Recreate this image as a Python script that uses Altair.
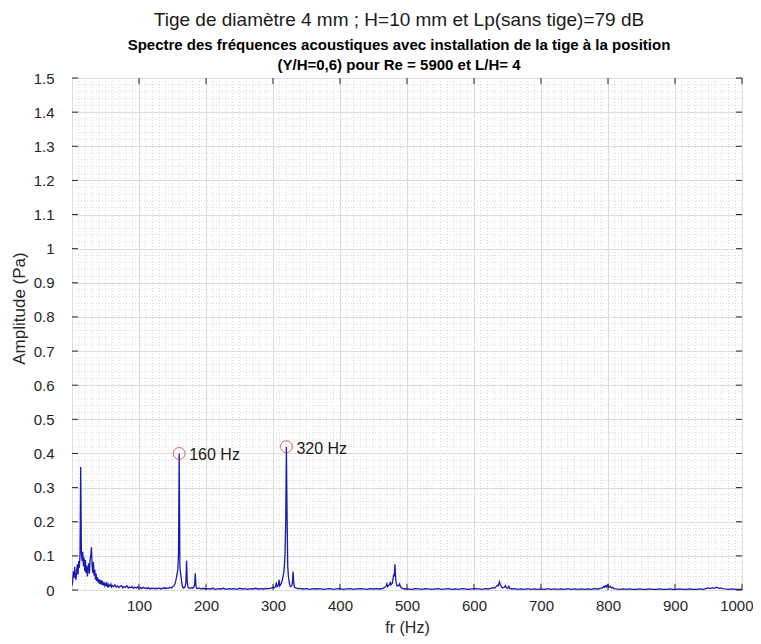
import altair as alt
import pandas as pd

# ---------------- data ----------------
freq_low = [0, 1, 2, 3, 4, 5, 6, 7, 8, 9, 10, 11, 12, 13, 14, 15, 16, 17, 18, 19,
            20, 21, 22, 23, 24, 25, 26, 27, 28, 29, 30, 31, 32, 33, 34, 35, 36, 37, 38, 39,
            40, 41, 42, 43, 44, 45, 46, 47, 48, 49, 50, 51, 52, 53, 54, 55, 56, 57, 58, 59, 60]
amp_low = [0.012, 0.025, 0.055, 0.035, 0.068, 0.040, 0.030, 0.058, 0.075, 0.045,
           0.085, 0.065, 0.105, 0.360, 0.110, 0.085, 0.112, 0.070, 0.095, 0.055,
           0.088, 0.050, 0.072, 0.040, 0.062, 0.078, 0.048, 0.090, 0.100, 0.125,
           0.072, 0.050, 0.082, 0.042, 0.060, 0.030, 0.048, 0.026, 0.038, 0.022,
           0.032, 0.018, 0.026, 0.020, 0.028, 0.015, 0.022, 0.016, 0.020, 0.012,
           0.018, 0.014, 0.020, 0.011, 0.016, 0.010, 0.014, 0.012, 0.017, 0.009, 0.013]

freq_tail = [62, 64, 66, 68, 70, 72, 74, 76, 78, 80, 82, 84, 86, 88, 90, 92, 94, 96, 98, 100,
             102, 104, 106, 108, 110, 112, 114, 116, 118, 120, 122, 124, 126, 128, 130, 132,
             134, 136, 138, 140, 142, 144, 146, 148, 150, 152]
amp_tail = [0.010, 0.015, 0.008, 0.012, 0.007, 0.011, 0.013, 0.006, 0.010, 0.008,
            0.012, 0.006, 0.009, 0.007, 0.010, 0.005, 0.008, 0.006, 0.009, 0.005,
            0.007, 0.004, 0.008, 0.005, 0.006, 0.004, 0.007, 0.003, 0.005, 0.004,
            0.006, 0.003, 0.005, 0.004, 0.006, 0.003, 0.005, 0.004, 0.007, 0.004,
            0.006, 0.005, 0.008, 0.006, 0.009, 0.012]

freq_160 = [153, 154, 155, 156, 157, 158, 159, 160, 161, 162, 163, 164, 165, 166, 167, 168,
            169, 170, 171, 172, 173, 174, 176, 178, 180, 182, 183, 184, 185, 186, 187, 190,
            193, 196, 199]
amp_160 = [0.015, 0.020, 0.028, 0.038, 0.050, 0.060, 0.110, 0.400, 0.070, 0.050, 0.035,
           0.018, 0.009, 0.006, 0.008, 0.007, 0.012, 0.022, 0.086, 0.025, 0.010, 0.006,
           0.005, 0.007, 0.005, 0.009, 0.015, 0.049, 0.012, 0.005, 0.004, 0.006, 0.003,
           0.005, 0.003]

freq_mid1 = [202, 206, 210, 214, 218, 222, 226, 230, 234, 238, 242, 246, 250, 254, 258,
             262, 266, 270, 274, 278, 282, 286, 290, 294, 298]
amp_mid1 = [0.004, 0.003, 0.005, 0.002, 0.004, 0.003, 0.005, 0.002, 0.004, 0.003, 0.004,
            0.002, 0.005, 0.003, 0.004, 0.002, 0.004, 0.003, 0.005, 0.003, 0.004, 0.003,
            0.005, 0.004, 0.006]

freq_320 = [300, 302, 304, 305, 306, 308, 309, 310, 312, 314, 316, 317, 318, 319, 320, 321,
            322, 323, 324, 325, 326, 328, 329, 330, 331, 332, 334, 337, 340]
amp_320 = [0.008, 0.006, 0.012, 0.022, 0.010, 0.014, 0.030, 0.012, 0.018, 0.030, 0.050,
           0.070, 0.110, 0.200, 0.420, 0.220, 0.070, 0.040, 0.025, 0.015, 0.010, 0.012,
           0.022, 0.054, 0.020, 0.008, 0.006, 0.004, 0.005]

freq_mid2 = [345, 350, 355, 360, 365, 370, 375, 380, 385, 390, 395, 400, 405, 410, 415,
             420, 425, 430, 435, 440, 445, 450, 455, 460, 464, 467]
amp_mid2 = [0.003, 0.004, 0.002, 0.004, 0.003, 0.004, 0.002, 0.003, 0.004, 0.002, 0.003,
            0.004, 0.002, 0.003, 0.004, 0.002, 0.003, 0.004, 0.003, 0.002, 0.004, 0.003,
            0.004, 0.003, 0.005, 0.008]

freq_480 = [469, 470, 471, 473, 475, 476, 478, 479, 480, 481, 482, 483, 484, 485, 487, 489,
            490, 493, 497]
amp_480 = [0.012, 0.018, 0.010, 0.014, 0.022, 0.015, 0.020, 0.030, 0.045, 0.040, 0.075,
           0.035, 0.020, 0.012, 0.012, 0.018, 0.010, 0.005, 0.003]

freq_mid3 = [502, 507, 512, 517, 522, 527, 532, 537, 542, 547, 552, 557, 562, 567, 572,
             577, 582, 587, 592, 597, 602, 607, 612, 617, 621]
amp_mid3 = [0.003, 0.002, 0.004, 0.003, 0.002, 0.004, 0.003, 0.002, 0.003, 0.004, 0.002,
            0.003, 0.004, 0.002, 0.003, 0.002, 0.004, 0.003, 0.002, 0.003, 0.004, 0.003,
            0.002, 0.004, 0.003]

freq_640 = [625, 628, 631, 633, 635, 636, 637, 638, 639, 641, 643, 645, 647, 648, 650, 652,
            653, 656, 660]
amp_640 = [0.005, 0.007, 0.006, 0.010, 0.014, 0.012, 0.018, 0.024, 0.016, 0.009, 0.006,
           0.008, 0.013, 0.007, 0.005, 0.011, 0.005, 0.003, 0.004]

freq_mid4 = [665, 670, 675, 680, 685, 690, 695, 700, 705, 710, 715, 720, 725, 730, 735,
             740, 745, 750, 755, 760, 765, 770, 775, 780, 785]
amp_mid4 = [0.002, 0.003, 0.002, 0.004, 0.002, 0.003, 0.002, 0.003, 0.002, 0.004, 0.002,
            0.003, 0.002, 0.003, 0.002, 0.004, 0.002, 0.003, 0.002, 0.003, 0.002, 0.003,
            0.002, 0.004, 0.003]

freq_800 = [789, 792, 794, 795, 797, 798, 800, 801, 803, 805, 807, 809, 812]
amp_800 = [0.005, 0.007, 0.011, 0.008, 0.013, 0.009, 0.015, 0.008, 0.011, 0.006, 0.008,
           0.004, 0.003]

freq_mid5 = [817, 822, 827, 832, 837, 842, 847, 852, 857, 862, 867, 872, 877, 882, 887,
             892, 897, 902, 907, 912, 917, 922, 927, 932, 937, 942]
amp_mid5 = [0.002, 0.003, 0.002, 0.003, 0.002, 0.002, 0.003, 0.002, 0.002, 0.003, 0.002,
            0.002, 0.003, 0.002, 0.002, 0.003, 0.002, 0.002, 0.003, 0.002, 0.002, 0.003,
            0.002, 0.002, 0.003, 0.002]

freq_960 = [946, 950, 953, 956, 959, 962, 965, 968, 971, 975, 980, 985, 990, 995, 1000]
amp_960 = [0.004, 0.006, 0.004, 0.007, 0.005, 0.008, 0.005, 0.006, 0.004, 0.003, 0.002,
           0.003, 0.002, 0.002, 0.002]

peak_freq = [160, 320]
peak_amp = [0.40, 0.42]
peak_label = ["160 Hz", "320 Hz"]

x_ticks = [100, 200, 300, 400, 500, 600, 700, 800, 900, 1000]
y_ticks = [0, 0.1, 0.2, 0.3, 0.4, 0.5, 0.6, 0.7, 0.8, 0.9, 1.0, 1.1, 1.2, 1.3, 1.4, 1.5]
x_minor = [v for v in range(10, 1000, 10) if v % 100 != 0]
y_minor = [round(0.02 * i, 2) for i in range(1, 75) if i % 5 != 0]

title_main = "Tige de diamètre 4 mm ; H=10 mm et Lp(sans tige)=79 dB"
title_sub = ["Spectre des fréquences acoustiques avec installation de la tige à la position",
             "(Y/H=0,6) pour Re = 5900 et L/H= 4"]

# ---------------- tables ----------------
freq = (freq_low + freq_tail + freq_160 + freq_mid1 + freq_320 + freq_mid2 + freq_480 +
        freq_mid3 + freq_640 + freq_mid4 + freq_800 + freq_mid5 + freq_960)
amp = (amp_low + amp_tail + amp_160 + amp_mid1 + amp_320 + amp_mid2 + amp_480 +
       amp_mid3 + amp_640 + amp_mid4 + amp_800 + amp_mid5 + amp_960)
spec = pd.DataFrame({"f": freq, "a": amp})
peaks = pd.DataFrame({"f": peak_freq, "a": peak_amp, "label": peak_label})
xminor_df = pd.DataFrame({"f": x_minor})
yminor_df = pd.DataFrame({"a": y_minor})

XMAX = 1000
YMAX = 1.5
xtick_len = 9      # Hz  (inward tick length on y axes)
ytick_len = 0.018  # Pa  (inward tick length on x axes)
xt = pd.DataFrame({"f": x_ticks, "y0": [0] * len(x_ticks), "y1": [ytick_len] * len(x_ticks),
                   "t0": [YMAX] * len(x_ticks), "t1": [YMAX - ytick_len] * len(x_ticks)})
yt = pd.DataFrame({"a": y_ticks, "x0": [0] * len(y_ticks), "x1": [xtick_len] * len(y_ticks),
                   "r0": [XMAX] * len(y_ticks), "r1": [XMAX - xtick_len] * len(y_ticks)})

FONT = "Liberation Sans"
xs = alt.Scale(domain=[0, XMAX], nice=False, zero=False)
ys = alt.Scale(domain=[0, YMAX], nice=False)

x_axis = alt.Axis(values=x_ticks, format="d", grid=True, gridColor="#dcdcdc",
                  gridWidth=1, domain=False, ticks=False, tickSize=0,
                  labelFont=FONT, labelFontSize=15, labelColor="#262626",
                  labelPadding=8, labelFlush=True, labelFlushOffset=11,
                  title="fr (Hz)", titleFont=FONT, titleFontSize=16,
                  titleFontWeight="normal", titleColor="#262626", titlePadding=6)
y_axis = alt.Axis(values=y_ticks, format=".1~f", grid=True, gridColor="#dcdcdc",
                  gridWidth=1, domain=False, ticks=False, tickSize=0,
                  labelFont=FONT, labelFontSize=15, labelColor="#262626",
                  labelPadding=18, labelFlush=False,
                  title="Amplitude (Pa)", titleFont=FONT, titleFontSize=17,
                  titleFontWeight="normal", titleColor="#262626",
                  titleAngle=270, titleX=-44, titleY=230,
                  titleAlign="center", titleBaseline="bottom")


def X(field):
    return alt.X(field, scale=xs, axis=x_axis)


def Y(field):
    return alt.Y(field, scale=ys, axis=y_axis)


minor_style = dict(color="#d9d9d9", strokeDash=[1, 2], strokeWidth=1)

base_axes = alt.Chart(spec).mark_line(opacity=0).encode(x=X("f:Q"), y=Y("a:Q"))
xminor = alt.Chart(xminor_df).mark_rule(**minor_style).encode(x=X("f:Q"))
yminor = alt.Chart(yminor_df).mark_rule(**minor_style).encode(y=Y("a:Q"))

line = alt.Chart(spec).mark_line(color="#1a1ab0", strokeWidth=1.3, clip=True).encode(
    x=X("f:Q"), y=Y("a:Q"))

tick_color = "#262626"
bt = alt.Chart(xt).mark_rule(color=tick_color, strokeWidth=1).encode(
    x=X("f:Q"), y=Y("y0:Q"), y2="y1:Q")
tt = alt.Chart(xt).mark_rule(color=tick_color, strokeWidth=1).encode(
    x=X("f:Q"), y=Y("t0:Q"), y2="t1:Q")
lt = alt.Chart(yt).mark_rule(color=tick_color, strokeWidth=1).encode(
    y=Y("a:Q"), x=X("x0:Q"), x2="x1:Q")
rt = alt.Chart(yt).mark_rule(color=tick_color, strokeWidth=1).encode(
    y=Y("a:Q"), x=X("r0:Q"), x2="r1:Q")

circles = alt.Chart(peaks).mark_point(shape="circle", filled=False, color="#d42020",
                                      size=140, strokeWidth=1).encode(
    x=X("f:Q"), y=Y("a:Q"))
labels = alt.Chart(peaks).mark_text(align="left", baseline="middle", dx=10, dy=2,
                                    font=FONT, fontSize=16, color="#1a1a1a").encode(
    x=X("f:Q"), y=Y("a:Q"), text="label:N")

chart = alt.layer(base_axes, xminor, yminor, line, bt, tt, lt, rt, circles, labels).properties(
    width=670, height=512,
    autosize=alt.AutoSizeParams(type="none"),
    padding={"left": 64, "top": 70, "right": 11, "bottom": 46},
    title=alt.TitleParams(text=title_main, subtitle=title_sub, anchor="middle",
                          font=FONT, fontSize=19, fontWeight="normal", color="#1a1a1a",
                          subtitleFont=FONT, subtitleFontSize=15,
                          subtitleFontWeight="bold", subtitleColor="#000000",
                          subtitleLineHeight=20, subtitlePadding=8, offset=-2, dx=-8),
).configure_view(stroke="#707070", strokeWidth=1).configure(background="white")

chart.save("out.html", embed_options={"renderer": "svg", "actions": False})
